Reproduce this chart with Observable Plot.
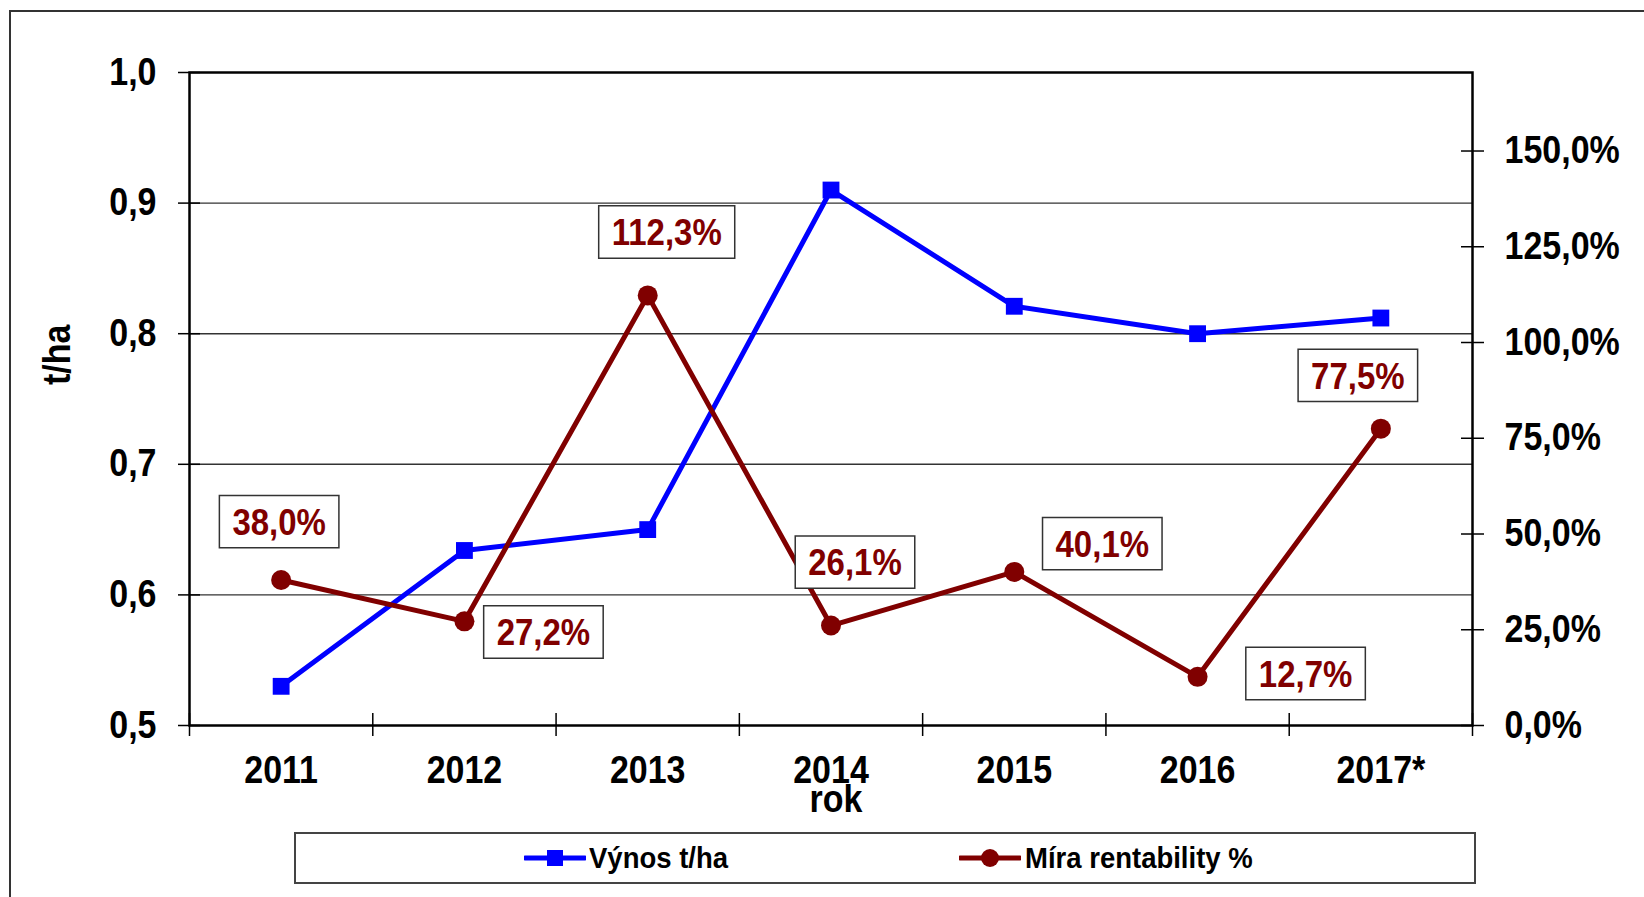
<!DOCTYPE html>
<html><head><meta charset="utf-8">
<script src="https://cdn.jsdelivr.net/npm/d3@7"></script>
<script src="https://cdn.jsdelivr.net/npm/@observablehq/plot@0.6"></script>
<style>
body{margin:0;background:#fff;font-family:"Liberation Sans",Arial,sans-serif;}
#wrap{position:relative;width:1644px;height:897px;overflow:hidden;}
#border{position:absolute;left:9px;top:10px;width:1700px;height:1000px;border-left:2px solid #333;border-top:2px solid #333;}
#chart{position:relative;height:826px;}
#legend{position:relative;margin-left:294px;margin-top:6px;width:1178px;height:48px;border:2px solid #444;font-weight:bold;font-size:27.5px;color:#000;}
#legend .item{position:absolute;top:0;height:48px;display:flex;align-items:center;white-space:nowrap;transform:scaleY(1.1);}
#legend svg{position:absolute;top:14px;}
</style></head>
<body><div id="wrap"><div id="border"></div><div id="chart"></div><div id="legend"></div></div>
<script>
// ---- data ----
const years = ["2011", "2012", "2013", "2014", "2015", "2016", "2017*"];
const yieldTHa = [0.53, 0.634, 0.65, 0.91, 0.821, 0.80, 0.812];
const profitability = [38.0, 27.2, 112.3, 26.1, 40.1, 12.7, 77.5];
const leftTicks = [0.5, 0.6, 0.7, 0.8, 0.9, 1.0];
const gridTicks = [0.6, 0.7, 0.8, 0.9];
const rightTicks = [0, 25, 50, 75, 100, 125, 150];
const seriesNames = ["Výnos t/ha", "Míra rentability %"];
// label placement (pixel offsets from point), layout only
const labelOffsets = [[-2, -57], [79, 12], [19, -62], [24, -62], [88, -27], [108, -2], [-23, -52]];

// ---- config ----
const yDomain = [0.5, 1.0];
const pctMax = 170.5; // secondary axis top
const BLUE = "#0000ff", RED = "#800000";
const FONT = "Liberation Sans, Arial, sans-serif";
const STRETCH = 1.12;

const yPct = p => yDomain[0] + p / pctMax * (yDomain[1] - yDomain[0]);
const pctFromY = y => (y - yDomain[0]) / (yDomain[1] - yDomain[0]) * pctMax;
const comma1 = v => v.toFixed(1).replace(".", ",");
const idx = d3.range(years.length);

const textStyle = {fontSize: 34, fontWeight: "bold", fill: "black"};

const marks = [
  Plot.ruleY(gridTicks, {stroke: "#333", strokeWidth: 1.4}),
  Plot.frame({stroke: "black", strokeWidth: 2.5}),
  // left axis ticks (crossing) and labels
  Plot.axisY({ticks: leftTicks, anchor: "left", tickSize: 22, dx: 11, fill: "none", stroke: "black", strokeWidth: 1.5, label: null}),
  Plot.axisY({ticks: leftTicks, anchor: "left", tickSize: 0, tickPadding: 33, tickFormat: comma1, label: null, ...textStyle, fontFamily: FONT}),
  // right axis
  Plot.axisY({ticks: rightTicks.map(yPct), anchor: "right", tickSize: 23, dx: -12, fill: "none", stroke: "black", strokeWidth: 1.5, label: null}),
  Plot.axisY({ticks: rightTicks.map(yPct), anchor: "right", tickSize: 0, tickPadding: 32,
    tickFormat: d => comma1(Math.round(pctFromY(d))) + "%", label: null, ...textStyle, fontFamily: FONT}),
  // x axis: category boundary ticks and labels
  Plot.axisX({ticks: d3.range(years.length + 1).map(i => i - 0.5), anchor: "bottom", tickSize: 23, dy: -12, fill: "none", stroke: "black", strokeWidth: 1.5, label: null}),
  Plot.axisX({ticks: idx, anchor: "bottom", tickSize: 0, tickPadding: 30, tickFormat: i => years[i], label: null, ...textStyle, fontFamily: FONT}),
  // axis titles
  Plot.text(["rok"], {frameAnchor: "bottom", dx: 5, dy: 86, text: d => d, ...textStyle, fontFamily: FONT}),
  Plot.text(["t/ha"], {frameAnchor: "left", rotate: -90, dx: -132, dy: -14, text: d => d, ...textStyle, fontFamily: FONT}),
  // series
  Plot.line(idx, {x: i => i, y: i => yieldTHa[i], stroke: BLUE, strokeWidth: 5}),
  Plot.dot(idx, {x: i => i, y: i => yieldTHa[i], symbol: "square", r: 9.5, fill: BLUE, stroke: "none"}),
  Plot.line(idx, {x: i => i, y: i => yPct(profitability[i]), stroke: RED, strokeWidth: 5}),
  Plot.dot(idx, {x: i => i, y: i => yPct(profitability[i]), r: 10, fill: RED, stroke: "none"}),
  // data labels
  ...idx.map(i => Plot.text([i], {
    x: j => j, y: j => yPct(profitability[j]), text: j => comma1(profitability[j]) + "%",
    dx: labelOffsets[i][0], dy: labelOffsets[i][1], fontSize: 33, fontWeight: "bold", fill: RED,
    fontFamily: FONT, ariaLabel: () => "labelbox"
  }))
];

const svg = Plot.plot({
  width: 1644, height: 826,
  marginLeft: 189, marginRight: 172, marginTop: 72, marginBottom: 101,
  x: {type: "linear", domain: [-0.5, years.length - 0.5]},
  y: {type: "linear", domain: yDomain},
  style: {fontFamily: FONT, background: "transparent", overflow: "visible"},
  marks
});
document.getElementById("chart").appendChild(svg);

// slight vertical stretch of all texts (as in the reference rendering)
svg.querySelectorAll("text").forEach(t => {
  const tr = t.getAttribute("transform") || "";
  t.setAttribute("transform", tr + ` scale(1,${STRETCH})`);
});

// boxes behind data labels
const ns = "http://www.w3.org/2000/svg";
svg.querySelectorAll('text[aria-label="labelbox"]').forEach(t => {
  const b = t.getBBox();
  const r = document.createElementNS(ns, "rect");
  r.setAttribute("x", b.x - 13);
  r.setAttribute("y", b.y - 5);
  r.setAttribute("width", b.width + 26);
  r.setAttribute("height", b.height + 10);
  r.setAttribute("transform", t.getAttribute("transform"));
  r.setAttribute("fill", "white");
  r.setAttribute("stroke", "#333");
  r.setAttribute("stroke-width", 1.5);
  r.setAttribute("vector-effect", "non-scaling-stroke");
  t.parentNode.insertBefore(r, t);
});

// legend (HTML, below the SVG)
const legend = document.getElementById("legend");
const items = [
  {name: seriesNames[0], color: BLUE, shape: "square", swatchLeft: 228, textLeft: 293},
  {name: seriesNames[1], color: RED, shape: "circle", swatchLeft: 663, textLeft: 729}
];
items.forEach(it => {
  const sw = document.createElementNS(ns, "svg");
  sw.setAttribute("width", 62); sw.setAttribute("height", 20);
  sw.style.left = it.swatchLeft + "px";
  const ln = document.createElementNS(ns, "line");
  ln.setAttribute("x1", 1); ln.setAttribute("x2", 61); ln.setAttribute("y1", 10); ln.setAttribute("y2", 10);
  ln.setAttribute("stroke", it.color); ln.setAttribute("stroke-width", 5); ln.setAttribute("stroke-linecap", "round");
  sw.appendChild(ln);
  if (it.shape === "square") {
    const r = document.createElementNS(ns, "rect");
    r.setAttribute("x", 23); r.setAttribute("y", 2); r.setAttribute("width", 16); r.setAttribute("height", 16);
    r.setAttribute("fill", it.color); sw.appendChild(r);
  } else {
    const c = document.createElementNS(ns, "circle");
    c.setAttribute("cx", 31); c.setAttribute("cy", 10); c.setAttribute("r", 9);
    c.setAttribute("fill", it.color); sw.appendChild(c);
  }
  legend.appendChild(sw);
  const d = document.createElement("div");
  d.className = "item";
  d.style.left = it.textLeft + "px";
  d.textContent = it.name;
  legend.appendChild(d);
});
</script>
</body></html>
